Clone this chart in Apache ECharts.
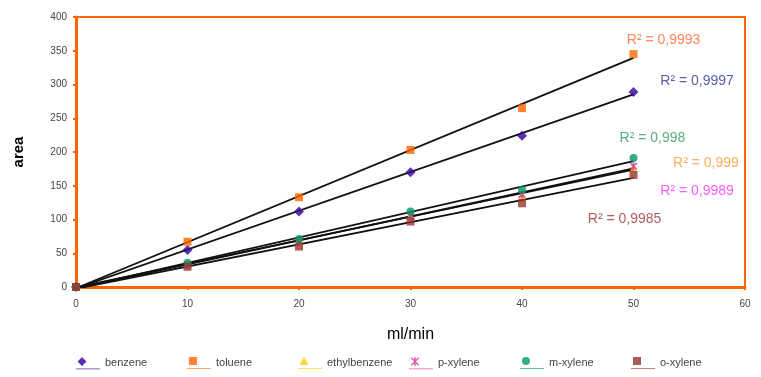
<!DOCTYPE html>
<html>
<head>
<meta charset="utf-8">
<script src="https://cdn.jsdelivr.net/npm/echarts@6/dist/echarts.min.js"></script>
<style>
  html, body { margin: 0; padding: 0; background: #fff; }
  #chart { width: 761px; height: 377px; }
</style>
</head>
<body>
<div id="chart"></div>
<script>
// flow rate (ml/min)
const flows = [0, 10, 20, 30, 40, 50];
const benzene = [0, 55, 112, 170, 224, 289];
const toluene = [0, 67, 133, 203, 265, 345];
const ethylbenzene = [0, 35, 68, 106, 136, 176];
const pXylene = [0, 33, 67, 105, 137, 179];
const mXylene = [0, 36, 71, 112, 144, 191];
const oXylene = [0, 30, 60, 97, 124, 166];

const names = ['benzene', 'toluene', 'ethylbenzene', 'p-xylene', 'm-xylene', 'o-xylene'];
const values = [benzene, toluene, ethylbenzene, pXylene, mXylene, oXylene];
const colors = ['#330099', '#FF6600', '#FFCC00', '#CC3399', '#009966', '#993333'];
const starPath = 'path://M4,0H6V10H4Z M0.5,1.8L1.9,0.4L9.5,8.2L8.1,9.6Z M8.1,0.4L9.5,1.8L1.9,9.6L0.5,8.2Z';
const symbols = ['diamond', 'rect', 'triangle', starPath, 'circle', 'rect'];

// legend icons: marker with a short underline, Excel style
const underline = ' M0,12H24V12.8H0Z';
const legendIcons = [
    'path://M6,0.5L10.5,5L6,9.5L1.5,5Z' + underline,
    'path://M2,1H10V9H2Z' + underline,
    'path://M6,1L10.5,9H1.5Z' + underline,
    'path://M5.3,0.5H6.7V9.5H5.3Z M1.8,1.8L2.8,0.8L10.2,8.2L9.2,9.2Z M9.2,0.8L10.2,1.8L2.8,9.2L1.8,8.2Z' + underline,
    'path://M2,5A4,4 0 1 1 10,5A4,4 0 1 1 2,5Z' + underline,
    'path://M2,1H10V9H2Z' + underline
];

// R² labels: text, colour, position in data space
const r2Text = ['R² = 0,9997', 'R² = 0,9993', 'R² = 0,999', 'R² = 0,9989', 'R² = 0,998', 'R² = 0,9985'];
const r2Color = ['#333399', '#FF6633', '#FF9933', '#FF33FF', '#339966', '#993333'];
const r2Pos = [[55.7, 305], [52.7, 366], [56.5, 184], [55.7, 142], [51.7, 221], [49.2, 101]];

// linear least-squares fit for the trend lines
function fitLine(xs, ys) {
    const n = xs.length;
    let sx = 0, sy = 0, sxx = 0, sxy = 0;
    for (let i = 0; i < n; i++) {
        sx += xs[i]; sy += ys[i]; sxx += xs[i] * xs[i]; sxy += xs[i] * ys[i];
    }
    const b = (n * sxy - sx * sy) / (n * sxx - sx * sx);
    const a = (sy - b * sx) / n;
    const x0 = xs[0], x1 = xs[n - 1];
    return [[x0, a + b * x0], [x1, a + b * x1]];
}

const series = [];
names.forEach((name, i) => {
    series.push({
        name: name + ' trend',
        type: 'line',
        data: fitLine(flows, values[i]),
        showSymbol: false,
        silent: true,
        lineStyle: { color: '#111', width: 1.8 },
        z: 2
    });
});
names.forEach((name, i) => {
    series.push({
        name: name,
        type: 'scatter',
        data: flows.map((f, j) => [f, values[i][j]]),
        symbol: symbols[i],
        symbolSize: symbols[i] === 'diamond' ? 10 : 8,
        itemStyle: { color: colors[i] },
        z: 3
    });
});
// R² annotations
series.push({
    name: 'r2',
    type: 'scatter',
    symbolSize: 0,
    silent: true,
    data: r2Pos.map((p, i) => ({
        value: p,
        label: {
            show: true,
            position: 'inside',
            formatter: r2Text[i],
            color: r2Color[i],
            fontSize: 14,
            fontFamily: 'Liberation Sans, Arial, sans-serif'
        }
    })),
    z: 4
});

// one legend block per series so the items sit on an even spacing
const legends = names.map((name, i) => ({
    data: [{ name: name, icon: legendIcons[i] }],
    top: 357,
    left: 76 + 111 * i,
    itemWidth: 24,
    itemHeight: 13,
    padding: 0,
    textStyle: {
        fontSize: 11,
        color: '#444',
        fontFamily: 'Liberation Sans, Arial, sans-serif'
    }
}));

const chart = echarts.init(document.getElementById('chart'));
chart.setOption({
    animation: false,
    backgroundColor: '#fff',
    grid: {
        left: 76, right: 16, top: 17, bottom: 90,
        show: true,
        borderColor: '#FF6600',
        borderWidth: 2,
        backgroundColor: '#fff'
    },
    legend: legends,
    xAxis: {
        type: 'value',
        min: 0, max: 60, interval: 10,
        name: 'ml/min',
        nameLocation: 'middle',
        nameGap: 40,
        nameTextStyle: { fontSize: 16, color: '#000', fontFamily: 'Liberation Sans, Arial, sans-serif' },
        axisLine: { show: true, lineStyle: { color: '#FF6600', width: 3 } },
        axisTick: { show: true, length: 3, lineStyle: { color: '#FF6600', width: 2 } },
        axisLabel: { fontSize: 10, color: '#444', margin: 12 },
        splitLine: { show: false }
    },
    yAxis: {
        type: 'value',
        min: 0, max: 400, interval: 50,
        name: 'area',
        nameLocation: 'middle',
        nameRotate: 90,
        nameGap: 50,
        nameTextStyle: { fontSize: 15, fontWeight: 'bold', color: '#000' },
        axisLine: { show: true, lineStyle: { color: '#FF6600', width: 3 } },
        axisTick: { show: true, length: 3, lineStyle: { color: '#FF6600', width: 2 } },
        axisLabel: { fontSize: 10, color: '#444', margin: 9 },
        splitLine: { show: false }
    },
    series: series
});
</script>
</body>
</html>
